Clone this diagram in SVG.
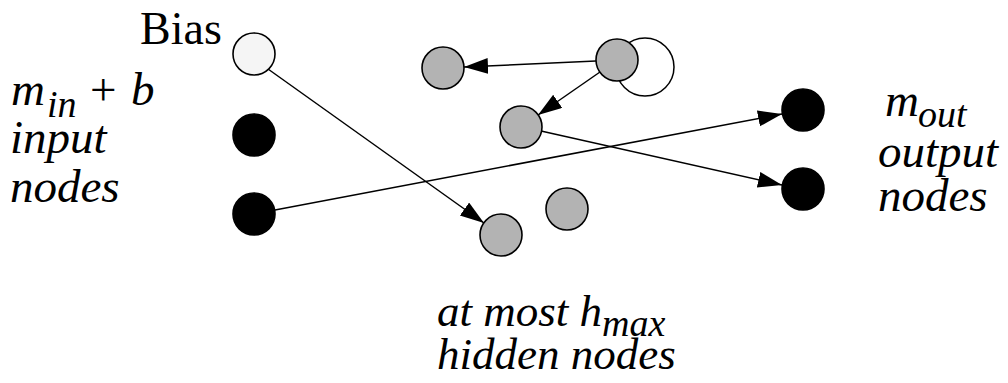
<svg xmlns="http://www.w3.org/2000/svg" width="1008" height="383" viewBox="0 0 1008 383">
<defs>
<marker id="arr" markerUnits="userSpaceOnUse" markerWidth="26" markerHeight="18" refX="24" refY="8" orient="auto">
<path d="M0,0 L24,8 L0,16 z" fill="#000"/>
</marker>
<style>
.n{stroke:#000;stroke-width:1.6}
.hid{fill:#b3b3b3}
.io{fill:#000}
.bias{fill:#f5f5f5}
.e{stroke:#000;stroke-width:1.5;fill:none}
.sub{font-size:38px}
</style>
</defs>
<rect width="1008" height="383" fill="#fff"/>
<g id="selfloop"><circle cx="645" cy="67" r="29" class="e"/></g>
<g id="connectors">
<line x1="268" y1="69" x2="484" y2="223" class="e" marker-end="url(#arr)"/>
<line x1="275" y1="210" x2="782" y2="114" class="e" marker-end="url(#arr)"/>
<line x1="596" y1="61" x2="464" y2="67" class="e" marker-end="url(#arr)"/>
<line x1="600" y1="72" x2="538" y2="115" class="e" marker-end="url(#arr)"/>
<line x1="541" y1="131" x2="782" y2="185" class="e" marker-end="url(#arr)"/>
</g>
<g id="bias"><circle cx="254" cy="54" r="21" class="n bias"/></g>
<g id="in1"><circle cx="254" cy="135" r="21" class="n io"/></g>
<g id="in2"><circle cx="254" cy="214" r="21" class="n io"/></g>
<g id="hA"><circle cx="443" cy="68" r="21" class="n hid"/></g>
<g id="hB"><circle cx="617" cy="60" r="21" class="n hid"/></g>
<g id="hC"><circle cx="521" cy="127" r="21" class="n hid"/></g>
<g id="hD"><circle cx="501" cy="235" r="21" class="n hid"/></g>
<g id="hE"><circle cx="567" cy="209" r="21" class="n hid"/></g>
<g id="out1"><circle cx="803" cy="110" r="21" class="n io"/></g>
<g id="out2"><circle cx="803" cy="189" r="21" class="n io"/></g>
<g id="labels" font-family="'Liberation Serif', 'DejaVu Serif', serif" fill="#000">
<text x="140" y="44" font-size="46">Bias</text>
<g font-size="47" font-style="italic">
<text x="11" y="105">m<tspan class="sub" x="47" dy="12">in</tspan><tspan x="90" dy="-12" font-style="normal">+</tspan><tspan x="131">b</tspan></text>
<text x="10" y="153">input</text>
<text x="10" y="202">nodes</text>
<text x="885" y="116">m<tspan class="sub" x="918" dy="11">out</tspan></text>
<text x="878" y="167">output</text>
<text x="878" y="211">nodes</text>
</g>
<g font-size="45" font-style="italic">
<text x="437" y="326">at most h<tspan class="sub" dy="10">max</tspan></text>
<text x="437" y="369">hidden nodes</text>
</g>
</g>
</svg>
